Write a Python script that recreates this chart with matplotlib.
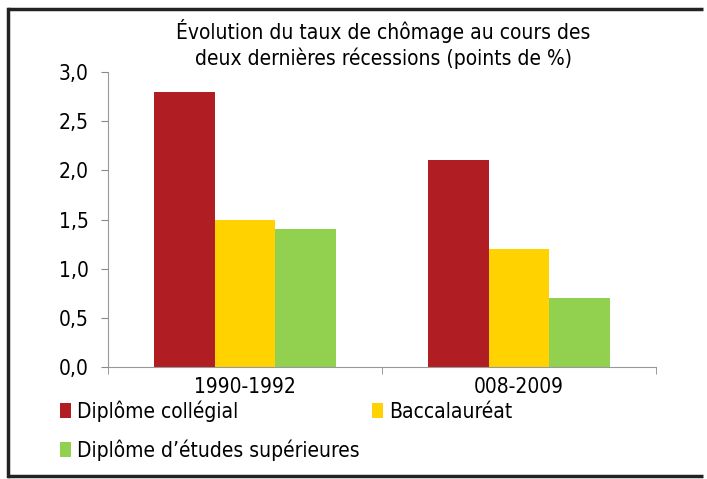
import matplotlib
matplotlib.use("Agg")
import matplotlib.pyplot as plt
from matplotlib.lines import Line2D
import numpy as np

plt.rcParams['font.family'] = ['DejaVu Sans']
plt.rcParams['font.stretch'] = 'condensed'

# data
periods = ['1990-1992', '008-2009']
series = ['Diplôme collégial', 'Baccalauréat', 'Diplôme d\u2019études supérieures']
collegial = [2.8, 2.1]
bac = [1.5, 1.2]
superieur = [1.4, 0.7]
colors = ['#B01E23', '#FFD200', '#92D050']
yticks = [0.0, 0.5, 1.0, 1.5, 2.0, 2.5, 3.0]

fig = plt.figure(figsize=(7.07, 4.79), dpi=100)
ax = fig.add_axes([0.1528, 0.2338, 0.7751, 0.6159])

x = np.arange(len(periods))
w = 0.222
for i, (vals, c, lab) in enumerate(zip([collegial, bac, superieur], colors, series)):
    ax.bar(x + (i - 1) * w, vals, width=w, color=c, label=lab)

ax.set_xlim(-0.5, 1.5)
ax.set_ylim(0, 3.0)
ax.set_yticks(yticks)
ax.set_yticklabels([f'{v:.1f}'.replace('.', ',') for v in yticks], fontsize=15)
ax.set_xticks(x)
ax.set_xticklabels(periods, fontsize=15)
ax.set_xticks([-0.5, 0.5, 1.5], minor=True)
ax.tick_params(axis='x', which='major', length=0, pad=7)
ax.tick_params(axis='x', which='minor', length=5, color='#888888')
ax.tick_params(axis='y', length=5, color='#888888', pad=9)
for s in ['top', 'right']:
    ax.spines[s].set_visible(False)
for s in ['left', 'bottom']:
    ax.spines[s].set_color('#999999')

fig.text(0.542, 0.908, 'Évolution du taux de chômage au cours des\ndeux dernières récessions (points de %)',
         ha='center', va='center', fontsize=15, linespacing=1.25)

handles, labels = ax.get_legend_handles_labels()
order = [0, 2, 1]
fig.legend([handles[k] for k in order], [labels[k] for k in order], ncol=2, loc='upper left',
           bbox_to_anchor=(0.0735, 0.182), frameon=False, fontsize=15, handlelength=0.5,
           handleheight=0.7, handletextpad=0.3, columnspacing=0.6, labelspacing=0.85,
           borderaxespad=0)

# border (top, left, bottom) - no right side in the source image
bc = '#222222'
fig.add_artist(Line2D([0.0115, 0.995], [0.982, 0.982], color=bc, lw=2.5,
                      solid_capstyle='butt', transform=fig.transFigure))
fig.add_artist(Line2D([0.0115, 0.0115], [0.006, 0.982], color=bc, lw=2.5, transform=fig.transFigure))
fig.add_artist(Line2D([0.0115, 0.995], [0.006, 0.006], color=bc, lw=2.5,
                      solid_capstyle='butt', transform=fig.transFigure))

fig.savefig('out.png', dpi=100)
